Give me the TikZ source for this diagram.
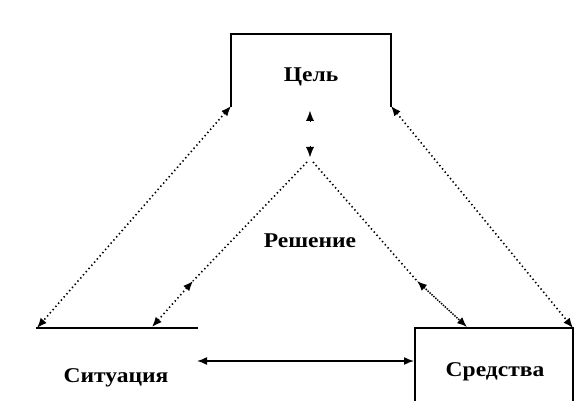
\documentclass[tikz,border=0pt]{standalone}
\usepackage{fontspec}
\setmainfont{Liberation Serif}
\usetikzlibrary{arrows.meta}
\begin{document}
\begin{tikzpicture}[x=1pt,y=-1pt,
  frame/.style={line width=2pt,line cap=rect},
  dotl/.style={line width=1.6pt,dash pattern=on 1.4pt off 2.8pt},
  dens/.style={line width=1.5pt,dash pattern=on 1.4pt off 1.2pt},
  ar/.style={{Latex[length=10pt,width=8pt]}-{Latex[length=10pt,width=8pt]}},
  lbl/.style={font=\fontsize{21}{21}\selectfont\bfseries,inner sep=0pt}]
\useasboundingbox (0,0) rectangle (582,420);
% labels
\node[lbl,xscale=1.12] (goal) at (311,77) {Цель};
\node[lbl,xscale=1.12] (dec) at (310,241) {Решение};
\node[lbl,xscale=1.12] (sit) at (116,378) {Ситуация};
\node[lbl,xscale=1.12] (mean) at (495,372) {Средства};
% frames
\coordinate (g1) at (231,106); \coordinate (g2) at (231,34);
\coordinate (g3) at (391,34); \coordinate (g4) at (391,106);
\draw[frame] (g1) -- (g2) -- (g3) -- (g4);
\coordinate (s1) at (37,328); \coordinate (s2) at (197,328);
\draw[frame] (s1) -- (s2);
\coordinate (m1) at (415,400); \coordinate (m2) at (415,328);
\coordinate (m3) at (573,328); \coordinate (m4) at (573,400);
\draw[frame] (m1) -- (m2) -- (m3) -- (m4);
% outer dotted arrows
\draw[dotl,ar] (g1) -- (s1);
\draw[dotl,ar] (g4) -- (m3);
% apex arrows
\coordinate (up1) at (310,122); \coordinate (up2) at (310,111);
\draw[line width=0.4pt,-{Latex[length=10pt,width=8pt]}] (up1) -- (up2);
\coordinate (dn1) at (310,146); \coordinate (dn2) at (310,157);
\draw[line width=0.4pt,-{Latex[length=10pt,width=8pt]}] (dn1) -- (dn2);
% middle lines
\coordinate (apL) at (307,162); \coordinate (apR) at (313,162);
\coordinate (lm) at (193,281); \coordinate (ls) at (152,327);
\coordinate (rm) at (417,281); \coordinate (rs) at (467,327);
\draw[dotl] (apL) -- (lm);
\draw[dotl,ar] (lm) -- (ls);
\draw[dotl] (apR) -- (rm);
\draw[dens,ar] (rm) -- (rs);
% horizontal arrow
\coordinate (h1) at (197,361); \coordinate (h2) at (414,361);
\draw[line width=1.5pt,ar] (h1) -- (h2);
\end{tikzpicture}
\end{document}
